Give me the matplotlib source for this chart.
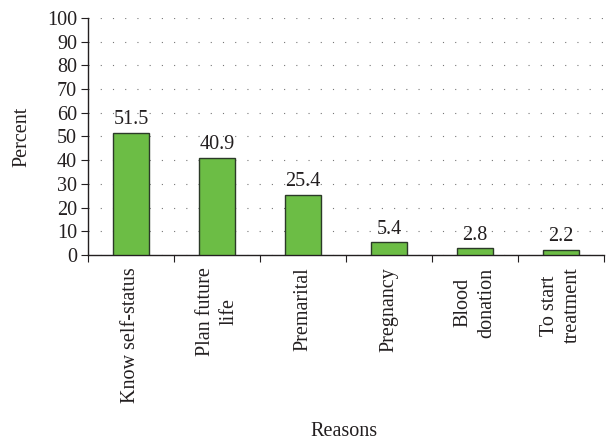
import matplotlib
matplotlib.use("Agg")
import matplotlib.pyplot as plt

categories = ["Know self-status", "Plan future\nlife", "Premarital", "Pregnancy", "Blood\ndonation", "To start\ntreatment"]
values = [51.5, 40.9, 25.4, 5.4, 2.8, 2.2]
yticks = list(range(0, 101, 10))

plt.rcParams['font.family'] = ['Liberation Serif', 'DejaVu Serif']
FS = 14.5

fig = plt.figure(figsize=(6.06, 4.45), dpi=100)
ax = fig.add_axes([0.1452, 0.427, 0.8515, 0.5326])

x = list(range(len(categories)))
ax.bar(x, values, width=0.41, color='#6cbd45', edgecolor='#2b3a28', linewidth=1.0, zorder=3)
for xi, v in zip(x, values):
    ax.text(xi, v + 1.5, f"{v:.1f}", ha='center', va='bottom', fontsize=FS, color='#231f20')

ax.set_xlim(-0.5, len(categories) - 0.5)
ax.set_ylim(0, 100)
ax.set_yticks(yticks)
ax.set_yticklabels([str(t) for t in yticks], fontsize=FS, color='#231f20')
ax.set_xticks([i - 0.5 for i in range(len(categories) + 1)])
ax.set_xticklabels([])
ax.set_xticks(x, minor=True)
ax.set_xticklabels(categories, minor=True, rotation=90, fontsize=FS, color='#231f20',
                   va='top', ha='center', multialignment='center', linespacing=1.3)
ax.tick_params(axis='x', which='minor', length=0, pad=9)
ax.tick_params(axis='x', which='major', length=5, direction='out', color='#231f20')
ax.tick_params(axis='y', length=5, direction='out', color='#231f20', pad=3)

ax.grid(axis='y', linestyle=(0, (1, 10)), color='#777777', linewidth=0.8, zorder=0)
for s in ['top', 'right']:
    ax.spines[s].set_visible(False)
for s in ['left', 'bottom']:
    ax.spines[s].set_color('#231f20')
    ax.spines[s].set_linewidth(1.0)

ax.set_ylabel("Percent", fontsize=FS, color='#231f20', labelpad=11)
fig.text(0.568, 0.03, "Reasons", ha='center', va='center', fontsize=FS, color='#231f20')

fig.savefig("out.png", dpi=100)
